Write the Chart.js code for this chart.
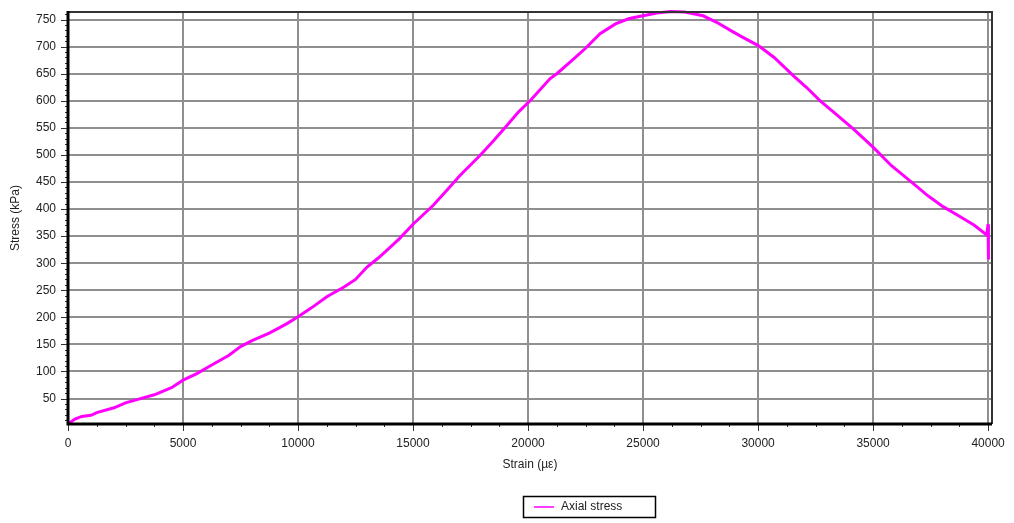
<!DOCTYPE html>
<html>
<head>
  <title>Axial stress</title>
  <script src="https://cdn.jsdelivr.net/npm/chart.js"></script>
  <style>
    html, body { margin: 0; padding: 0; background: #fff; }
    #wrap { position: relative; width: 1014px; height: 523px; }
  </style>
</head>
<body>
<div id="wrap"><canvas id="stressChart" width="1014" height="523"></canvas></div>
<script>
  // strain (µε) and axial stress (kPa)
  const strain = [0, 300, 600, 1000, 1250, 2000, 2500, 3000, 3750, 4500, 5000, 5600, 6250, 7000, 7500, 8000,
    8750, 9500, 10000, 10600, 11250, 12000, 12500, 13000, 13500, 13870, 14400, 15000, 15880, 16500, 17040,
    17910, 18500, 19070, 19600, 20090, 20960, 21250, 21900, 22500, 23130, 23800, 24400, 25000, 25600, 26200,
    26800, 27300, 27610, 28200, 28800, 29220, 30010, 30700, 31540, 32100, 32700, 33400, 34140, 35010, 35800,
    36750, 37400, 38060, 38700, 39400, 39940, 40000, 40010, 40020];
  const stress = [3, 12, 17, 19, 24, 33, 42, 48, 57, 70, 84, 96, 112, 130, 146, 157,
    171, 188, 201, 218, 238, 256, 270, 293, 310, 324, 345, 372, 407, 436, 462,
    499, 526, 554, 580, 600, 641, 650, 674, 697, 724, 742, 752, 757, 762, 765,
    764, 760, 757, 745, 730, 720, 702, 680, 646, 625, 600, 575, 548, 514, 480,
    447, 424, 404, 388, 370, 352, 372, 307, 345];

  const xTicks = [0, 5000, 10000, 15000, 20000, 25000, 30000, 35000, 40000];
  const yTicks = [50, 100, 150, 200, 250, 300, 350, 400, 450, 500, 550, 600, 650, 700, 750];

  const points = strain.map((s, i) => ({ x: s, y: stress[i] }));

  // frame, minor ticks and the boxed legend
  const framePlugin = {
    id: 'frame',
    afterDraw(chart) {
      const ctx = chart.ctx;
      const a = chart.chartArea;
      const xs = chart.scales.x, ys = chart.scales.y;
      ctx.save();
      // tick marks
      ctx.strokeStyle = '#333';
      ctx.lineWidth = 1;
      for (let v = 10; v <= ys.max; v += 10) {
        const py = Math.round(ys.getPixelForValue(v)) + 0.5;
        const len = v % 50 === 0 ? 7 : 3;
        ctx.beginPath(); ctx.moveTo(a.left - len, py); ctx.lineTo(a.left, py); ctx.stroke();
      }
      for (let v = 0; v <= 40000; v += 1250) {
        const px = Math.round(xs.getPixelForValue(v)) + 0.5;
        const len = v % 5000 === 0 ? 7 : 3;
        ctx.beginPath(); ctx.moveTo(px, a.bottom); ctx.lineTo(px, a.bottom + len); ctx.stroke();
      }
      // top and right border
      ctx.strokeStyle = '#333';
      ctx.lineWidth = 2;
      ctx.beginPath();
      ctx.moveTo(a.left, a.top); ctx.lineTo(a.right, a.top); ctx.lineTo(a.right, a.bottom);
      ctx.stroke();
      // left and bottom axis lines
      ctx.strokeStyle = '#000';
      ctx.lineWidth = 3;
      ctx.beginPath();
      ctx.moveTo(a.left, a.top - 1); ctx.lineTo(a.left, a.bottom); ctx.lineTo(a.right, a.bottom);
      ctx.stroke();

      // legend box
      const lx = 523, ly = 496, lw = 132, lh = 21;
      ctx.fillStyle = '#fff';
      ctx.fillRect(lx, ly, lw, lh);
      ctx.strokeStyle = '#000';
      ctx.lineWidth = 1.5;
      ctx.strokeRect(lx + 0.5, ly + 0.5, lw, lh);
      ctx.strokeStyle = '#ff00ff';
      ctx.lineWidth = 1.5;
      ctx.beginPath(); ctx.moveTo(lx + 11, ly + 11); ctx.lineTo(lx + 31, ly + 11); ctx.stroke();
      ctx.fillStyle = '#222';
      ctx.font = '12px "Liberation Sans", Arial, sans-serif';
      ctx.textBaseline = 'middle';
      ctx.fillText(chart.data.datasets[0].label, lx + 38, ly + 11);
      ctx.restore();
    }
  };

  const tickFont = { family: '"Liberation Sans", Arial, sans-serif', size: 12 };
  const plain = v => String(v);

  new Chart(document.getElementById('stressChart'), {
    type: 'line',
    data: {
      datasets: [{
        label: 'Axial stress',
        data: points,
        borderColor: '#ff00ff',
        borderWidth: 3,
        pointRadius: 0,
        tension: 0,
        fill: false
      }]
    },
    options: {
      responsive: false,
      animation: false,
      clip: false,
      layout: { padding: { left: 0, top: 12, right: 22, bottom: 44 } },
      plugins: { legend: { display: false }, tooltip: { enabled: false } },
      scales: {
        x: {
          type: 'linear',
          min: 0,
          max: 40170,
          afterFit(scale) {
            scale.height = 55;
            scale.paddingLeft = 0;
            scale.paddingRight = 0;
          },
          afterBuildTicks(scale) { scale.ticks = xTicks.map(v => ({ value: v })); },
          ticks: { color: '#222', font: tickFont, padding: 12, maxRotation: 0, autoSkip: false, callback: plain },
          grid: { color: '#8f8f8f', lineWidth: 2, drawTicks: false },
          border: { display: false },
          title: {
            display: true,
            text: 'Strain (µε)',
            color: '#222',
            font: { family: '"Liberation Sans", Arial, sans-serif', size: 12 },
            padding: { top: 4, bottom: 7 }
          }
        },
        y: {
          type: 'linear',
          min: 3,
          max: 764,
          afterFit(scale) {
            scale.width = 68;
            scale.paddingTop = 0;
            scale.paddingBottom = 0;
          },
          afterBuildTicks(scale) { scale.ticks = yTicks.map(v => ({ value: v })); },
          ticks: { color: '#222', font: tickFont, padding: 12, autoSkip: false, callback: plain },
          grid: { color: '#8f8f8f', lineWidth: 2, drawTicks: false },
          border: { display: false },
          title: {
            display: true,
            text: 'Stress (kPa)',
            color: '#222',
            font: { family: '"Liberation Sans", Arial, sans-serif', size: 12 },
            padding: { top: 8, bottom: 0 }
          }
        }
      }
    },
    plugins: [framePlugin]
  });
</script>
</body>
</html>
